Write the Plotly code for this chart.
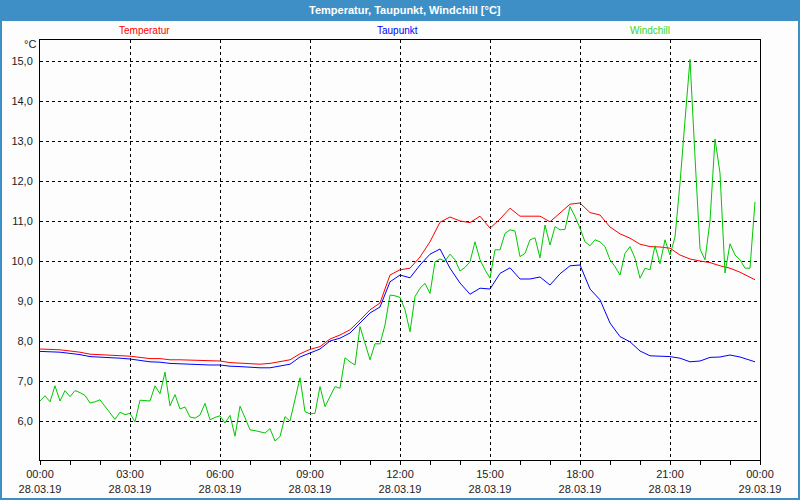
import pandas as pd
import plotly.graph_objects as go

# ---------------- data ----------------
temperatur = [7.80, 7.79, 7.78, 7.75, 7.72, 7.67, 7.66, 7.65, 7.64, 7.62,
              7.59, 7.56, 7.56, 7.53, 7.53, 7.52, 7.51, 7.51, 7.50, 7.46,
              7.45, 7.43, 7.42, 7.44, 7.48, 7.53, 7.68, 7.79, 7.86, 8.05,
              8.15, 8.28, 8.52, 8.78, 8.95, 9.65, 9.78, 9.82, 10.10, 10.48,
              10.97, 11.10, 11.00, 10.96, 11.12, 10.82, 11.05, 11.32, 11.12, 11.12,
              11.12, 10.98, 11.20, 11.42, 11.45, 11.21, 11.15, 10.85, 10.68, 10.57,
              10.42, 10.36, 10.35, 10.32, 10.15, 10.05, 10.00, 9.96, 9.88, 9.82,
              9.72, 9.58, 9.53]

taupunkt = [7.74, 7.73, 7.72, 7.69, 7.66, 7.61, 7.60, 7.59, 7.57, 7.55,
            7.52, 7.48, 7.47, 7.44, 7.43, 7.42, 7.40, 7.40, 7.40, 7.37,
            7.36, 7.34, 7.33, 7.33, 7.38, 7.42, 7.60, 7.70, 7.80, 8.00,
            8.07, 8.20, 8.45, 8.70, 8.85, 9.48, 9.65, 9.58, 9.90, 10.17,
            10.30, 9.82, 9.45, 9.17, 9.32, 9.30, 9.69, 9.83, 9.55, 9.55,
            9.60, 9.40, 9.68, 9.88, 9.90, 9.30, 9.03, 8.45, 8.11, 7.98,
            7.75, 7.63, 7.62, 7.61, 7.57, 7.48, 7.50, 7.59, 7.60, 7.65,
            7.60, 7.52, 7.48]

windchill = [6.50, 6.63, 6.48, 6.88, 6.50, 6.76, 6.61, 6.76, 6.71, 6.64,
             6.45, 6.48, 6.53, 6.36, 6.19, 6.04, 6.22, 6.16, 6.19, 5.98,
             6.52, 6.51, 6.50, 6.88, 6.68, 7.22, 6.38, 6.66, 6.30, 6.35,
             6.10, 6.07, 6.15, 6.44, 6.03, 6.09, 6.13, 5.95, 6.14, 5.62,
             6.37, 6.08, 5.78, 5.76, 5.73, 5.70, 5.81, 5.50, 5.61, 6.11,
             6.00, 6.55, 7.08, 6.23, 6.18, 6.19, 6.86, 6.36, 6.61, 6.86,
             6.82, 7.58, 7.48, 7.40, 8.36, 7.94, 7.53, 7.93, 7.93, 8.40,
             9.15, 9.13, 9.09, 8.78, 8.23, 9.11, 9.32, 9.44, 9.19, 9.98,
             10.05, 10.00, 10.17, 10.03, 9.75, 9.84, 9.98, 10.48, 10.03, 9.78,
             9.57, 10.28, 10.28, 10.69, 10.78, 10.75, 10.11, 10.19, 10.53, 10.58,
             10.08, 10.90, 10.40, 10.86, 10.78, 10.79, 11.36, 11.11, 10.82, 10.48,
             10.38, 10.53, 10.48, 10.36, 10.03, 9.86, 9.65, 10.19, 10.36, 10.07,
             9.57, 9.82, 9.78, 10.38, 9.93, 10.53, 10.15, 10.60, 11.95, 13.52,
             15.04, 12.60, 10.30, 10.03, 11.00, 13.05, 12.20, 9.70, 10.43, 10.15,
             10.03, 9.82, 9.82, 11.48]

series_names = ["Temperatur", "Taupunkt", "Windchill"]
tick_times = ["2019-03-28 00:00", "2019-03-28 03:00", "2019-03-28 06:00",
              "2019-03-28 09:00", "2019-03-28 12:00", "2019-03-28 15:00",
              "2019-03-28 18:00", "2019-03-28 21:00", "2019-03-29 00:00"]
tick_labels = ["00:00<br>28.03.19", "03:00<br>28.03.19", "06:00<br>28.03.19",
               "09:00<br>28.03.19", "12:00<br>28.03.19", "15:00<br>28.03.19",
               "18:00<br>28.03.19", "21:00<br>28.03.19", "00:00<br>29.03.19"]
y_ticks = [6, 7, 8, 9, 10, 11, 12, 13, 14, 15]

# time axes for the series
t20 = list(pd.date_range("2019-03-28 00:00", periods=len(temperatur) - 1, freq="20min"))
t20.append(pd.Timestamp("2019-03-28 23:50"))
t10 = list(pd.date_range("2019-03-28 00:00", periods=len(windchill), freq="10min"))

RED, BLUE, GREEN = "#ff0000", "#0000ff", "#00c800"
BG = "#fcfdfc"
BAR = "#3d8fc6"
FONT = "Liberation Sans"
TXT = "#1c1c28"

fig = go.Figure()
fig.add_trace(go.Scatter(x=t20, y=temperatur, mode="lines", name=series_names[0],
                         line=dict(color=RED, width=1)))
fig.add_trace(go.Scatter(x=t20, y=taupunkt, mode="lines", name=series_names[1],
                         line=dict(color=BLUE, width=1)))
fig.add_trace(go.Scatter(x=t10, y=windchill, mode="lines", name=series_names[2],
                         line=dict(color=GREEN, width=1)))

fig.update_layout(
    width=800, height=500,
    margin=dict(l=40, r=40, t=40, b=40, pad=0),
    paper_bgcolor=BG, plot_bgcolor=BG,
    separators=",.",
    showlegend=False,
    font=dict(family=FONT, size=11, color=TXT),
    xaxis=dict(
        type="date", automargin=False,
        range=["2019-03-28 00:00", "2019-03-29 00:00"],
        tickmode="array", tickvals=tick_times, ticktext=tick_labels,
        showgrid=True, gridcolor="#000000", gridwidth=1, griddash="3px,3px",
        showline=True, linecolor="#000000", linewidth=1, mirror=True,
        ticks="outside", ticklen=4, tickcolor="#000000",
        minor=dict(dtick=3600000, ticks="outside", ticklen=4, tickcolor="#000000", showgrid=False),
        tickfont=dict(family=FONT, size=11, color=TXT),
        zeroline=False, fixedrange=True,
    ),
    yaxis=dict(
        automargin=False,
        range=[5.025, 15.525],
        tickmode="array", tickvals=y_ticks, tickformat=".1f",
        showgrid=True, gridcolor="#000000", gridwidth=1, griddash="3px,3px",
        showline=True, linecolor="#000000", linewidth=1, mirror=True,
        ticks="", ticklabelstandoff=4,
        tickfont=dict(family=FONT, size=11, color=TXT),
        zeroline=False, fixedrange=True,
    ),
)

# window frame and title bar (paper coordinates)
def px_x(px):
    return (px - 40) / 720.0

def px_y(py):
    return (460 - py) / 420.0

fig.add_shape(type="rect", xref="paper", yref="paper",
              x0=px_x(0), x1=px_x(800), y0=px_y(0), y1=px_y(20),
              fillcolor=BAR, line=dict(width=0), layer="above")
fig.add_shape(type="rect", xref="paper", yref="paper",
              x0=px_x(1), x1=px_x(799), y0=px_y(20), y1=px_y(499),
              fillcolor="rgba(0,0,0,0)", line=dict(color=BAR, width=2), layer="above")

fig.add_annotation(text="<b>Temperatur, Taupunkt, Windchill [°C]</b>",
                   xref="paper", yref="paper", x=px_x(405), y=px_y(10),
                   showarrow=False, font=dict(family=FONT, size=11, color="#ffffff"),
                   xanchor="center", yanchor="middle")

for name, color, cx in [(series_names[0], RED, 144), (series_names[1], BLUE, 397),
                        (series_names[2], "#33d633", 650)]:
    fig.add_annotation(text=name, xref="paper", yref="paper", x=px_x(cx), y=px_y(30),
                       showarrow=False, font=dict(family=FONT, size=10, color=color),
                       xanchor="center", yanchor="middle")

fig.add_annotation(text="°C", xref="paper", yref="paper", x=px_x(38), y=px_y(44),
                   showarrow=False, font=dict(family=FONT, size=11, color=TXT),
                   xanchor="right", yanchor="middle")

fig.write_html("out.html",
               config={"displayModeBar": False},
               post_script="document.body.style.margin='0';document.body.style.overflow='hidden';")
